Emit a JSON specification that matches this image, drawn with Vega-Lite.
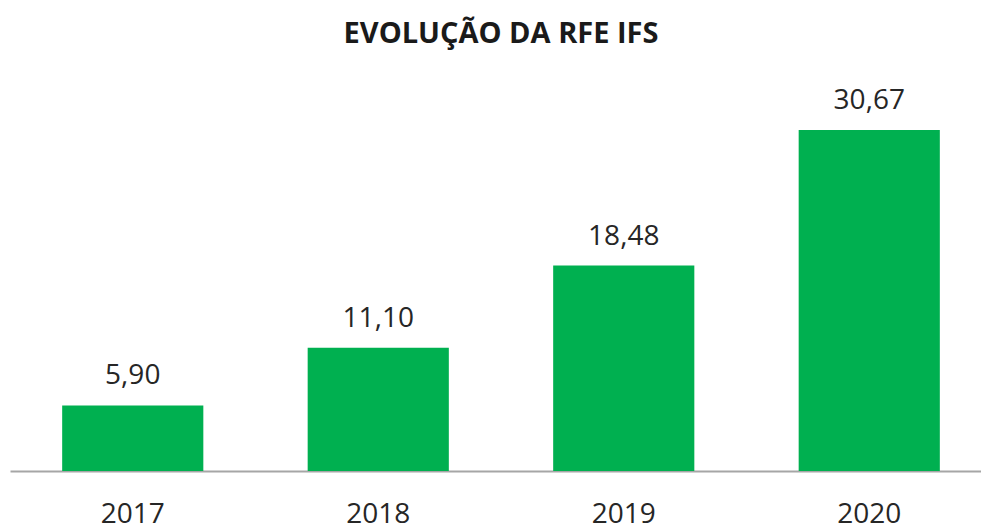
{
  "$schema": "https://vega.github.io/schema/vega-lite/v6.json",
  "width": 982,
  "height": 389,
  "autosize": {"type": "none"},
  "padding": {"left": 10, "top": 82, "right": 0, "bottom": 55},
  "background": "white",
  "title": {
    "text": "EVOLUÇÃO DA RFE IFS",
    "font": "Open Sans",
    "fontSize": 29,
    "fontWeight": "bold",
    "color": "#1a1a1a",
    "anchor": "middle",
    "baseline": "alphabetic",
    "offset": 10
  },
  "data": {
    "values": [
      {"ano": "2017", "valor": 5.90, "rotulo": "5,90"},
      {"ano": "2018", "valor": 11.10, "rotulo": "11,10"},
      {"ano": "2019", "valor": 18.48, "rotulo": "18,48"},
      {"ano": "2020", "valor": 30.67, "rotulo": "30,67"}
    ]
  },
  "encoding": {
    "x": {
      "field": "ano",
      "type": "nominal",
      "scale": {"paddingInner": 0.425, "paddingOuter": 0.2125},
      "axis": {
        "title": null,
        "ticks": false,
        "tickSize": 0,
        "domainColor": "#a6a6a6",
        "domainWidth": 2,
        "labelFont": "Open Sans",
        "labelFontSize": 28,
        "labelColor": "#262626",
        "labelAngle": 0,
        "labelBaseline": "top",
        "labelPadding": 29
      }
    },
    "y": {
      "field": "valor",
      "type": "quantitative",
      "scale": {"domain": [0, 35]},
      "axis": null
    }
  },
  "layer": [
    {"mark": {"type": "bar", "color": "#00b050"}},
    {
      "mark": {
        "type": "text",
        "font": "Open Sans",
        "fontSize": 28,
        "color": "#262626",
        "baseline": "alphabetic",
        "dy": -21
      },
      "encoding": {"text": {"field": "rotulo"}}
    }
  ],
  "config": {"view": {"stroke": null}}
}
